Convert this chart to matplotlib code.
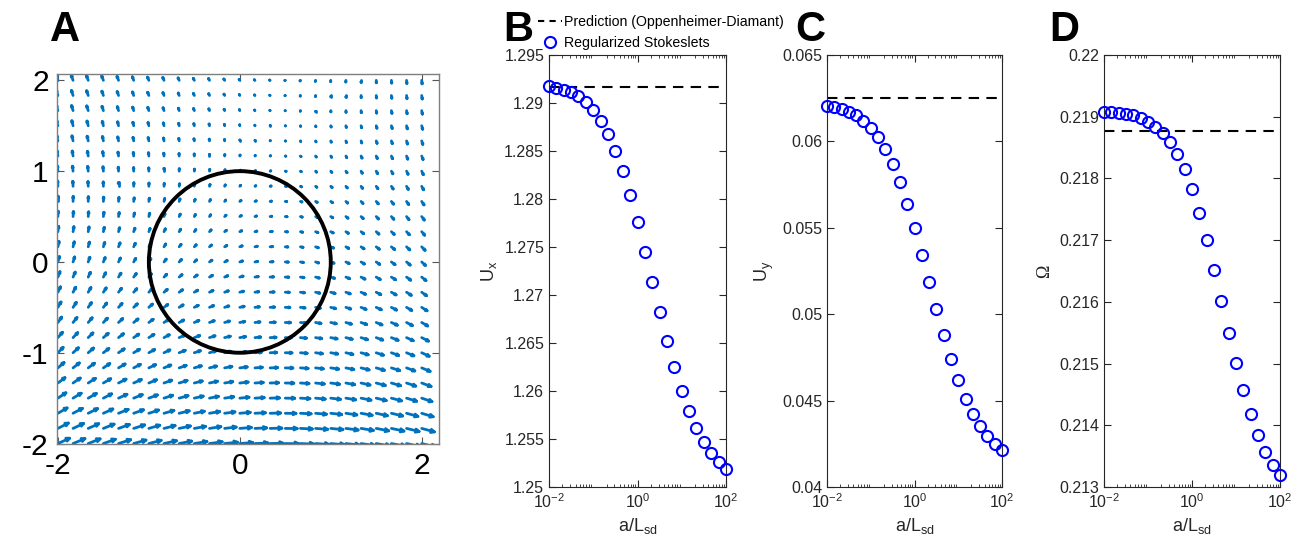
import numpy as np
import matplotlib
matplotlib.use("Agg")
import matplotlib.pyplot as plt
from matplotlib.patches import Circle
from matplotlib.lines import Line2D
from matplotlib.collections import LineCollection
from matplotlib.ticker import FormatStrFormatter, LogLocator, NullFormatter

plt.rcParams['font.family'] = ['Liberation Sans', 'DejaVu Sans']
plt.rcParams['mathtext.fontset'] = 'custom'
plt.rcParams['mathtext.rm'] = 'Liberation Sans'
plt.rcParams['mathtext.it'] = 'Liberation Sans:italic'
plt.rcParams['mathtext.default'] = 'regular'
plt.rcParams['axes.unicode_minus'] = False

# ---- panel A: flow field on a 25x25 grid around the unit disc ----
GRID = np.linspace(-2, 2, 25)
# x-velocity along each row (bottom -> top)
U_ROW = [1.00, 0.90, 0.81, 0.72, 0.65, 0.58, 0.51, 0.46, 0.40, 0.35, 0.31,
         0.27, 0.23, 0.20, 0.17, 0.14, 0.12, 0.09, 0.07, 0.05, 0.03, 0.02,
         0.00, -0.01, -0.02]
# x-velocity offset per column (left -> right)
U_COL = [-0.12, -0.11, -0.11, -0.10, -0.09, -0.08, -0.08, -0.07, -0.06,
         -0.06, -0.05, -0.04, -0.03, -0.03, -0.02, -0.01, -0.01, 0.00, 0.01,
         0.01, 0.02, 0.03, 0.04, 0.04, 0.05]
# y-velocity per column (left -> right)
V_COL = [0.40, 0.37, 0.35, 0.32, 0.29, 0.26, 0.24, 0.21, 0.18, 0.15, 0.13,
         0.10, 0.07, 0.04, 0.02, -0.01, -0.04, -0.07, -0.09, -0.12, -0.15,
         -0.18, -0.20, -0.23, -0.26]

# ---- panels B-D: swimming speeds vs. regularisation ratio ----
A_OVER_L = [0.01, 0.0147, 0.0215, 0.0316, 0.0464, 0.0681, 0.1, 0.147, 0.215,
            0.316, 0.464, 0.681, 1.0, 1.47, 2.15, 3.16, 4.64, 6.81, 10.0,
            14.7, 21.5, 31.6, 46.4, 68.1, 100.0]
UX = [1.29174, 1.29156, 1.29139, 1.29111, 1.29069, 1.29007, 1.28924, 1.28813,
      1.28677, 1.28503, 1.28288, 1.28038, 1.27757, 1.27451, 1.27135, 1.26819,
      1.26521, 1.26247, 1.26000, 1.25788, 1.25611, 1.25469, 1.25351, 1.25264,
      1.25188]
UY = [0.06207, 0.06197, 0.06185, 0.06170, 0.06151, 0.06120, 0.06079, 0.06025,
      0.05956, 0.05869, 0.05763, 0.05637, 0.05496, 0.05344, 0.05187, 0.05029,
      0.04878, 0.04741, 0.04618, 0.04512, 0.04425, 0.04353, 0.04297, 0.04251,
      0.04216]
OMEGA = [0.219076, 0.219070, 0.219060, 0.219043, 0.219022, 0.218978, 0.218919,
         0.218838, 0.218735, 0.218594, 0.218394, 0.218145, 0.217826, 0.217442,
         0.216998, 0.216511, 0.216008, 0.215494, 0.215012, 0.214568, 0.214184,
         0.213848, 0.213573, 0.213351, 0.213188]
UX_OD, UY_OD, OMEGA_OD = 1.29167, 0.06249, 0.218762

W, H = 1311, 548
fig = plt.figure(figsize=(W / 100, H / 100), dpi=100)


def px_axes(left, right, top, bottom):
    return fig.add_axes([left / W, 1 - bottom / H, (right - left) / W,
                         (bottom - top) / H])


AXC = '#262626'
BLUE_Q = '#0072BD'


def arrows(ax, X, Y, U, V, fill=0.95, head=0.3, ang=np.deg2rad(25)):
    """MATLAB-style quiver: line shafts with two short barbs at the tip."""
    spacing = X[0, 1] - X[0, 0]
    mag = np.hypot(U, V)
    s = fill * spacing / mag.max()
    tx, ty = X + s * U, Y + s * V
    th = np.arctan2(V, U)
    hl = head * s * mag
    segs = []
    for x0, y0, x1, y1, t, h in zip(X.ravel(), Y.ravel(), tx.ravel(),
                                    ty.ravel(), th.ravel(), hl.ravel()):
        segs.append([(x0, y0), (x1, y1)])
        for d in (ang, -ang):
            segs.append([(x1, y1), (x1 - h * np.cos(t + d),
                                    y1 - h * np.sin(t + d))])
    ax.add_collection(LineCollection(segs, colors=BLUE_Q, linewidths=2.0,
                                     capstyle='round', zorder=2))


# panel A
axA = px_axes(57, 439, 74, 444)
X, Y = np.meshgrid(GRID, GRID)
U = np.array(U_ROW)[:, None] + np.array(U_COL)[None, :]
V = np.zeros_like(U) + np.array(V_COL)[None, :]
arrows(axA, X, Y, U, V)
axA.add_patch(Circle((0, 0), 1, fill=False, ec='black', lw=2.8, zorder=5))
axA.set_xlim(-2.01, 2.19)
axA.set_ylim(-2.005, 2.07)
axA.set_xticks([-2, 0, 2])
axA.set_yticks([-2, -1, 0, 1, 2])
axA.tick_params(direction='in', top=True, right=True, labelsize=21.5,
                length=5, color='#555555', pad=6)
for s in axA.spines.values():
    s.set_color('#7f7f7f')
    s.set_linewidth(1.0)


def speed_panel(left, right, yvals, pred, ylim, yticks, ylabel, fmt):
    ax = px_axes(left, right, 55, 487)
    ax.set_xscale('log')
    ax.axhline(pred, color='black', ls=(0, (5, 3.5)), lw=1.5, zorder=1)
    ax.plot(A_OVER_L, yvals, 'o', mfc='none', mec='blue', ms=8, mew=1.5,
            zorder=3, clip_on=False)
    ax.set_xlim(1e-2, 1e2)
    ax.set_ylim(*ylim)
    ax.set_yticks(yticks)
    ax.yaxis.set_major_formatter(FormatStrFormatter(fmt))
    ax.set_xticks([1e-2, 1e0, 1e2])
    ax.xaxis.set_minor_locator(LogLocator(base=10, subs=np.arange(2, 10),
                                          numticks=10))
    ax.xaxis.set_minor_formatter(NullFormatter())
    ax.tick_params(which='both', direction='in', top=True, right=True,
                   color=AXC, labelcolor=AXC)
    ax.tick_params(which='major', length=5, labelsize=11.5)
    ax.tick_params(which='minor', length=2.5)
    for s in ax.spines.values():
        s.set_color(AXC)
        s.set_linewidth(0.8)
    ax.set_xlabel(r'$\mathregular{a/L_{sd}}$', fontsize=13, color=AXC,
                  labelpad=4)
    ax.set_ylabel(ylabel, fontsize=13, color=AXC)
    return ax


axB = speed_panel(549, 726, UX, UX_OD, (1.25, 1.295),
                  [1.25, 1.255, 1.26, 1.265, 1.27, 1.275, 1.28, 1.285, 1.29,
                   1.295], r'$\mathregular{U_x}$', '%g')
axC = speed_panel(827, 1002, UY, UY_OD, (0.04, 0.065),
                  [0.04, 0.045, 0.05, 0.055, 0.06, 0.065],
                  r'$\mathregular{U_y}$', '%g')
axD = speed_panel(1104, 1280, OMEGA, OMEGA_OD, (0.213, 0.22),
                  [0.213, 0.214, 0.215, 0.216, 0.217, 0.218, 0.219, 0.22],
                  'Ω', '%g')
axD.yaxis.label.set_family('Liberation Serif')

handles = [Line2D([], [], color='black', ls=(0, (3, 2.5)), lw=1.5),
           Line2D([], [], ls='none', marker='o', mfc='none', mec='blue',
                  ms=8, mew=1.5)]
fig.legend(handles, ['Prediction (Oppenheimer-Diamant)',
                     'Regularized Stokeslets'],
           loc='upper left', bbox_to_anchor=(538 / W, 1 - 15 / H),
           frameon=False, fontsize=10.2, handlelength=1.7, handletextpad=0.1,
           labelspacing=0.5, borderpad=0, borderaxespad=0)

for letter, xpx in [('A', 50), ('B', 503), ('C', 795), ('D', 1049)]:
    fig.text(xpx / W, 1 - 41 / H, letter, fontsize=30, fontweight='bold',
             va='baseline', ha='left')

fig.savefig('out.png', dpi=100)
